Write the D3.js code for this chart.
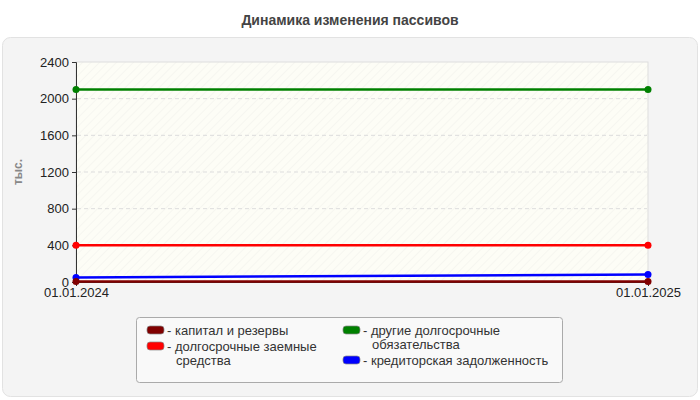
<!DOCTYPE html><html><head><meta charset="utf-8"><script src="https://cdn.jsdelivr.net/npm/d3@7"></script>
<style>body{margin:0;background:#fff}svg{font-family:"Liberation Sans",Arial,sans-serif}</style></head><body><svg width="700" height="400"></svg>
<script>
const dates=["01.01.2024","01.01.2025"];
const seriesNames=["капитал и резервы","долгосрочные заемные средства","другие долгосрочные обязательства","кредиторская задолженность"];
const legendLines=[["капитал и резервы"],["долгосрочные заемные","средства"],["другие долгосрочные","обязательства"],["кредиторская задолженность"]];
const colors=["#800000","#ff0000","#008000","#0000ff"];
const kapital=[5,5];
const zaem=[400,400];
const drugie=[2100,2100];
const kredit=[50,82];
const yTicks=[0,400,800,1200,1600,2000,2400];
const values=[kapital,zaem,drugie,kredit];
const F='"Liberation Sans",Arial,sans-serif';
const svg=d3.select("svg");
svg.append("rect").attr("x",2.5).attr("y",37.5).attr("width",695).attr("height",359).attr("rx",8).attr("fill","#f4f4f4").attr("stroke","#e2e2e2");
svg.append("text").attr("x",350).attr("y",25).attr("text-anchor","middle").attr("font-size",14).attr("font-weight","bold").attr("fill","#444").text("Динамика изменения пассивов");
const x=d3.scalePoint().domain(dates).range([76,648]);
const y=d3.scaleLinear().domain([0,2400]).range([282,62]);
const defs=svg.append("defs");
const p=defs.append("pattern").attr("id","h").attr("width",6).attr("height",6).attr("patternUnits","userSpaceOnUse").attr("patternTransform","rotate(45)");
p.append("rect").attr("width",6).attr("height",6).attr("fill","#fdfdf6");
p.append("line").attr("x1",0).attr("y1",0).attr("x2",0).attr("y2",6).attr("stroke","#f0f0ea").attr("stroke-width",1);
svg.append("rect").attr("x",76).attr("y",62).attr("width",572).attr("height",220).attr("fill","url(#h)").attr("stroke","#ddd");
svg.append("g").selectAll("line").data(yTicks.slice(1,-1)).join("line").attr("x1",77).attr("x2",647).attr("y1",d=>y(d)).attr("y2",d=>y(d)).attr("stroke","#ddd").attr("stroke-dasharray","4,3");
const ya=svg.append("g").attr("transform","translate(76,0)").call(d3.axisLeft(y).tickValues(yTicks).tickSize(4).tickFormat(d3.format("d")));
ya.selectAll("text").attr("font-size",13).attr("fill","#222").attr("font-family",F);
ya.select(".domain").attr("stroke","#333");ya.selectAll(".tick line").attr("stroke","#333");
const xa=svg.append("g").attr("transform","translate(0,282)").call(d3.axisBottom(x).tickSize(4).tickSizeOuter(0));
xa.selectAll("text").attr("font-size",13).attr("fill","#222").attr("font-family",F).attr("dy","0.6em");
xa.select(".domain").attr("stroke","#333");xa.selectAll(".tick line").attr("stroke","#333");
svg.append("text").attr("transform","translate(22,172) rotate(-90)").attr("text-anchor","middle").attr("font-size",12).attr("font-weight","bold").attr("fill","#888").text("тыс.");
const line=d3.line().x((d,i)=>x(dates[i])).y(d=>y(d));
[2,1,3,0].forEach(k=>{
 svg.append("path").attr("d",line(values[k])).attr("fill","none").attr("stroke",colors[k]).attr("stroke-width",2.5);
 svg.append("g").selectAll("circle").data(values[k]).join("circle").attr("cx",(d,i)=>x(dates[i])).attr("cy",d=>y(d)).attr("r",3.5).attr("fill",colors[k]);
});
svg.append("rect").attr("x",136.5).attr("y",317.5).attr("width",426).attr("height",65).attr("rx",3).attr("fill","#f9f9f9").attr("stroke","#aaa");
const pos=[[147,331],[147,347],[343,331],[343,361]];
legendLines.forEach((ls,i)=>{
 const [lx,ly]=pos[i];
 svg.append("rect").attr("x",lx).attr("y",ly-5).attr("width",17).attr("height",8).attr("rx",3).attr("fill",colors[i]).attr("stroke","#888").attr("stroke-width",0.7);
 const t=svg.append("text").attr("x",lx+20).attr("y",ly+4).attr("font-size",13).attr("fill","#333");
 ls.forEach((s,j)=>t.append("tspan").attr("x",j?lx+29:lx+20).attr("dy",j?14:0).text(j?s:"- "+s));
});
</script></body></html>
